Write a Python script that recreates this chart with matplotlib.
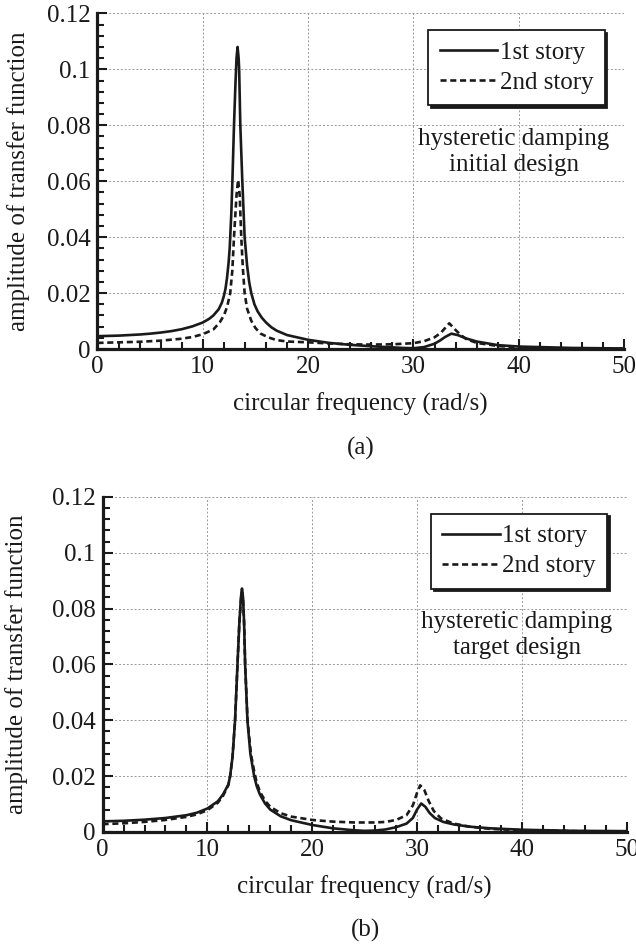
import numpy as np
from matplotlib import pyplot as plt
from matplotlib.ticker import MultipleLocator

plt.rcParams['font.family'] = ['Liberation Serif', 'DejaVu Serif']
plt.rcParams['font.size'] = 18

# (a) initial design
freq_a1 = [0, 2, 4, 5, 6, 7, 8, 9, 10, 10.6, 11, 11.5, 11.8, 12, 12.15, 12.3, 12.45,
           12.55, 12.7, 12.8, 12.96, 13.1, 13.2, 13.3, 13.4, 13.45, 13.56, 13.75,
           13.97, 14.2, 14.4, 14.6, 14.9, 15.2, 15.6, 16, 16.5, 17, 18, 20, 22, 24,
           26, 28, 29, 30, 31, 32, 32.5, 33, 33.6, 34.2, 35, 36, 38, 40, 45, 50]
amp_a1 = [0.0046, 0.0048, 0.0052, 0.0055, 0.0059, 0.0064, 0.0071, 0.0081, 0.0095,
          0.0108, 0.0120, 0.0142, 0.0165, 0.0190, 0.0215, 0.0255, 0.0310, 0.0360,
          0.0480, 0.0590, 0.0800, 0.0950, 0.1040, 0.1080, 0.1040, 0.1000, 0.0800,
          0.0600, 0.0400, 0.0300, 0.0240, 0.0200, 0.0160, 0.0135, 0.0112, 0.0095,
          0.0078, 0.0066, 0.0050, 0.0033, 0.0022, 0.0015, 0.0010, 0.0006, 0.0004,
          0.0003, 0.0007, 0.0019, 0.0030, 0.0043, 0.0055, 0.0050, 0.0038, 0.0027,
          0.0014, 0.0009, 0.0004, 0.0002]

freq_a2 = [0, 2, 4, 6, 8, 9, 10, 11, 11.6, 12, 12.3, 12.6, 12.8, 12.96, 13.2, 13.35,
           13.5, 13.65, 13.8, 13.97, 14.2, 14.6, 15, 15.5, 16.2, 17, 18, 20, 22, 24,
           26, 28, 30, 31, 32, 32.6, 33, 33.4, 34, 34.5, 35, 36, 38, 40, 45, 50]
amp_a2 = [0.0022, 0.0024, 0.0026, 0.0030, 0.0037, 0.0043, 0.0053, 0.0070, 0.0095,
          0.0120, 0.0150, 0.0200, 0.0280, 0.0400, 0.0550, 0.0605, 0.0550, 0.0400,
          0.0290, 0.0200, 0.0145, 0.0101, 0.0075, 0.0055, 0.0042, 0.0032, 0.0027,
          0.0024, 0.0020, 0.0017, 0.0016, 0.0017, 0.0021, 0.0028, 0.0042, 0.0058,
          0.0075, 0.0092, 0.0068, 0.0050, 0.0036, 0.0022, 0.0011, 0.0006, 0.0002,
          0.0001]

# (b) target design
freq_b1 = [0, 2, 4, 6, 8, 9, 10, 11, 11.5, 12, 12.17, 12.4, 12.64, 12.87, 13.05,
           13.2, 13.3, 13.4, 13.5, 13.6, 13.82, 14.1, 14.46, 14.7, 15, 15.5, 16, 17,
           18, 20, 22, 24, 25, 26, 27, 28, 29, 29.6, 30.0, 30.4, 30.8, 31.2, 31.7,
           32.5, 33.5, 35, 37, 40, 45, 50]
amp_b1 = [0.0038, 0.0040, 0.0044, 0.0050, 0.0060, 0.0069, 0.0084, 0.0110, 0.0135,
          0.0170, 0.0200, 0.0270, 0.0400, 0.0600, 0.0750, 0.0840, 0.0872, 0.0840,
          0.0750, 0.0600, 0.0400, 0.0280, 0.0200, 0.0165, 0.0135, 0.0102, 0.0080,
          0.0056, 0.0042, 0.0025, 0.0013, 0.0006, 0.0004, 0.0005, 0.0009, 0.0017,
          0.0030, 0.0050, 0.0080, 0.0102, 0.0090, 0.0068, 0.0050, 0.0036, 0.0027,
          0.0019, 0.0013, 0.0008, 0.0004, 0.0003]

freq_b2 = [0, 2, 4, 6, 8, 9, 10, 11, 11.5, 12, 12.17, 12.4, 12.64, 12.87, 13.05,
           13.2, 13.3, 13.4, 13.5, 13.6, 13.83, 14.15, 14.5, 14.7, 15, 15.5, 16, 17,
           18, 20, 22, 24, 26, 27, 28, 29, 29.6, 30.0, 30.3, 30.7, 31.1, 31.6, 32.3,
           33.5, 35, 37, 40, 45, 50]
amp_b2 = [0.0028, 0.0031, 0.0036, 0.0043, 0.0054, 0.0063, 0.0078, 0.0105, 0.0130,
          0.0168, 0.0200, 0.0270, 0.0400, 0.0600, 0.0750, 0.0830, 0.0860, 0.0830,
          0.0750, 0.0600, 0.0400, 0.0280, 0.0210, 0.0178, 0.0145, 0.0112, 0.0090,
          0.0067, 0.0055, 0.0043, 0.0037, 0.0034, 0.0034, 0.0036, 0.0043, 0.0060,
          0.0095, 0.0140, 0.0167, 0.0150, 0.0112, 0.0075, 0.0048, 0.0030, 0.0019,
          0.0011, 0.0006, 0.0003, 0.0001]

LABELS = ['1st story', '2nd story']
NOTES = ['hysteretic damping\ninitial design', 'hysteretic damping\ntarget design']
PANELS = ['(a)', '(b)']
INK = '#1a1a1a'


def draw_panel(ax, f1, a1, f2, a2, note):
    ax.plot(f1, a1, color=INK, lw=1.9, label=LABELS[0], zorder=3)
    ax.plot(f2, a2, color=INK, lw=1.9, ls=(0, (2.3, 1.4)), label=LABELS[1], zorder=3)
    ax.set_xlim(0, 50)
    ax.set_ylim(0, 0.12)
    ax.xaxis.set_major_locator(MultipleLocator(10))
    ax.xaxis.set_minor_locator(MultipleLocator(2))
    ax.yaxis.set_minor_locator(MultipleLocator(0.004))
    ax.set_yticks([0, 0.02, 0.04, 0.06, 0.08, 0.1, 0.12])
    ax.set_yticklabels(['0', '0.02', '0.04', '0.06', '0.08', '0.1', '0.12'])
    ax.tick_params(which='both', direction='in', color=INK, width=1.5,
                   top=False, right=False, labelcolor=INK)
    ax.tick_params(which='major', length=7, pad=5)
    ax.tick_params(which='minor', length=5)
    ax.grid(True, which='major', ls=(0, (2, 2)), color='#999999', lw=0.7)
    for side in ['top', 'right']:
        ax.spines[side].set_visible(False)
    for side in ['left', 'bottom']:
        ax.spines[side].set_linewidth(2.3)
        ax.spines[side].set_color(INK)
        ax.spines[side].set_zorder(4)
    ax.set_xlabel('circular frequency (rad/s)', color=INK)
    ax.set_ylabel('amplitude of transfer function', color=INK)
    ax.text(39.5, 0.0705, note, ha='center', va='center', color=INK,
            multialignment='center', linespacing=1.25)
    leg = ax.legend(loc='upper right', bbox_to_anchor=(0.963, 0.95), fancybox=False,
                    shadow={'color': INK, 'alpha': 1.0}, edgecolor=INK,
                    framealpha=1, handlelength=2.3, handletextpad=0.1,
                    borderpad=0.45, labelspacing=0.3, borderaxespad=0)
    for t in leg.get_texts():
        t.set_color(INK)
    leg.get_frame().set_linewidth(1.3)


fig = plt.figure(figsize=(6.36, 9.48), dpi=100)
ax1 = fig.add_axes([0.1533, 0.6318, 0.828, 0.3541])
ax2 = fig.add_axes([0.1613, 0.1224, 0.824, 0.3534])

draw_panel(ax1, freq_a1, amp_a1, freq_a2, amp_a2, NOTES[0])
draw_panel(ax2, freq_b1, amp_b1, freq_b2, amp_b2, NOTES[1])

ax1.yaxis.set_label_coords(-0.128, 0.5)
ax2.yaxis.set_label_coords(-0.142, 0.5)
for ax in (ax1, ax2):
    ax.xaxis.set_label_coords(0.5, -0.13)

fig.text(0.568, 1 - 448 / 948, PANELS[0], ha='center', va='center', color=INK)
fig.text(0.574, 1 - 930 / 948, PANELS[1], ha='center', va='center', color=INK)

plt.savefig('out.png', dpi=100)
plt.close()
